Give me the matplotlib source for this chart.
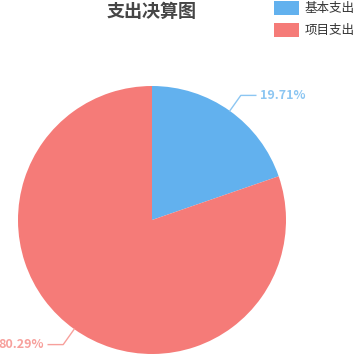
import numpy as np
import matplotlib
matplotlib.use("Agg")
import matplotlib.pyplot as plt

plt.rcParams["font.family"] = ["Noto Sans CJK SC", "DejaVu Sans"]

title = "支出决算图"
names = ["基本支出", "项目支出"]
shares = [19.71, 80.29]
colors = ["#62b1ee", "#f57b78"]
label_colors = ["#8cc6f2", "#f7a09c"]

W, H = 356, 358
fig = plt.figure(figsize=(W / 100, H / 100), dpi=100)
ax = fig.add_axes([0, 0, 1, 1])

cx, cy, r = 152, 138, 134
wedges, _ = ax.pie(shares, colors=colors, startangle=90, counterclock=False,
                   center=(cx, cy), radius=r, frame=True,
                   wedgeprops={"linewidth": 0})
ax.set_xlim(0, W)
ax.set_ylim(0, H)
ax.set_aspect("equal")
ax.set_axis_off()

total = sum(shares)
start = 90.0
for share, lc in zip(shares, label_colors):
    span = share / total * 360.0
    mid = np.deg2rad(start - span / 2)
    start -= span
    c, s = np.cos(mid), np.sin(mid)
    p0 = (cx + r * c, cy + r * s)
    p1 = (cx + (r + 19) * c, cy + (r + 19) * s)
    side = 1 if c >= 0 else -1
    p2 = (p1[0] + side * 15, p1[1])
    ax.plot([p0[0], p1[0], p2[0]], [p0[1], p1[1], p2[1]], color=lc, lw=1)
    ax.text(p2[0] + side * 4, p2[1], "%.2f%%" % share, color=lc,
            fontsize=9, fontweight="bold",
            ha="left" if side > 0 else "right", va="center")

fig.text(152 / W, 1 - 11 / H, title, ha="center", va="center",
         fontsize=13, fontweight="bold", color="#464646")

leg = fig.legend(wedges, names, loc="upper right", bbox_to_anchor=(1.0, 1.0),
                 frameon=False, fontsize=9, handlelength=2.0, handleheight=1.35,
                 handletextpad=0.45, labelspacing=0.6, borderaxespad=0.1,
                 borderpad=0.0)
for t in leg.get_texts():
    t.set_color("#333333")

fig.savefig("out.png", dpi=100)
